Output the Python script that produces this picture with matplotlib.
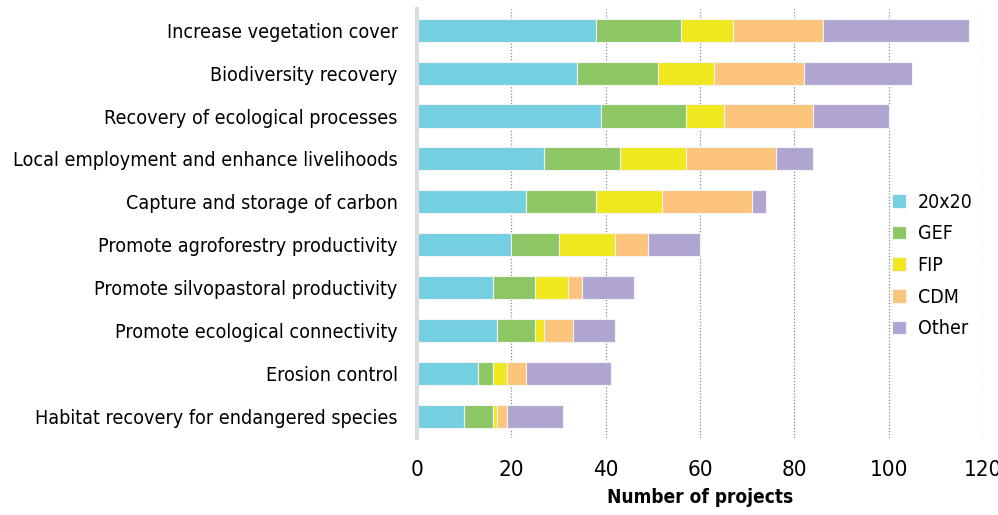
import numpy as np
import matplotlib.pyplot as plt

categories = ['Increase vegetation cover', 'Biodiversity recovery',
              'Recovery of ecological processes',
              'Local employment and enhance livelihoods',
              'Capture and storage of carbon',
              'Promote agroforestry productivity',
              'Promote silvopastoral productivity',
              'Promote ecological connectivity',
              'Erosion control',
              'Habitat recovery for endangered species']
s20x20 = [38, 34, 39, 27, 23, 20, 16, 17, 13, 10]
gef = [18, 17, 18, 16, 15, 10, 9, 8, 3, 6]
fip = [11, 12, 8, 14, 14, 12, 7, 2, 3, 1]
cdm = [19, 19, 19, 19, 19, 7, 3, 6, 4, 2]
other = [31, 23, 16, 8, 3, 11, 11, 9, 18, 12]
series = ['20x20', 'GEF', 'FIP', 'CDM', 'Other']
colors = ['#74cfe1', '#8cc763', '#efe81f', '#fdc47c', '#b0a5d0']

plt.rcParams['font.family'] = ['DejaVu Sans']
plt.rcParams['font.stretch'] = 'condensed'

fig = plt.figure(figsize=(9.98, 5.15), dpi=100)
ax = fig.add_axes([0.418, 0.150, 0.567, 0.833])

y = np.arange(len(categories))
left = np.zeros(len(categories))
for name, vals, c in zip(series, [s20x20, gef, fip, cdm, other], colors):
    ax.barh(y, vals, left=left, height=0.54, color=c, label=name,
            edgecolor='#f4f4f4', linewidth=0.8, zorder=3)
    left += np.array(vals)

ax.set_ylim(len(categories) - 0.5, -0.5)
ax.set_xlim(0, 120)
ax.set_xticks(np.arange(0, 121, 20))
ax.set_yticks(y)
ax.set_yticklabels(categories, fontsize=14.1)
ax.tick_params(axis='x', labelsize=16, length=0, pad=16)
ax.tick_params(axis='y', length=0, pad=14)
for s in ['top', 'right', 'bottom']:
    ax.spines[s].set_visible(False)
ax.spines['left'].set_color('#dcdcdc')
ax.spines['left'].set_linewidth(3)
ax.spines['left'].set_zorder(4)
for xv in range(20, 121, 20):
    ax.axvline(xv, color='#888888', linestyle=(0, (1, 1.5)), linewidth=0.9, zorder=1)
ax.set_xlabel('Number of projects', fontsize=13.7, fontweight='bold', labelpad=6)

ax.legend(loc='upper left', bbox_to_anchor=(0.809, 0.612), frameon=False,
          fontsize=14, handlelength=0.7, handleheight=0.7, handletextpad=0.6,
          labelspacing=0.65)

fig.savefig('out.png', dpi=100)
